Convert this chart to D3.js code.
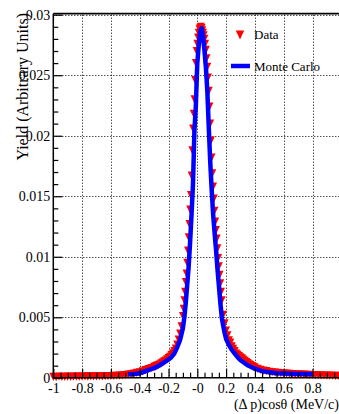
<!DOCTYPE html>
<html>
<head>
<meta charset="utf-8">
<script src="https://cdn.jsdelivr.net/npm/d3@7"></script>
<style>
  html, body { margin: 0; padding: 0; background: #fff; }
  svg { display: block; }
</style>
</head>
<body>
<svg id="chart" width="339" height="414"></svg>
<script>
// Axis ticks and labels
const xTicks = [-1, -0.8, -0.6, -0.4, -0.2, 0, 0.2, 0.4, 0.6, 0.8, 1];
const xTickLabels = ["-1", "-0.8", "-0.6", "-0.4", "-0.2", "-0", "0.2", "0.4", "0.6", "0.8", "1"];
const yTicks = [0, 0.005, 0.01, 0.015, 0.02, 0.025, 0.03];
const yTickLabels = ["0", "0.005", "0.01", "0.015", "0.02", "0.025", "0.03"];

// Measured distribution (bin centre, yield)
const dataX = [
  -1.00, -0.98, -0.96, -0.94, -0.92, -0.90, -0.88, -0.86, -0.84, -0.82,
  -0.80, -0.78, -0.76, -0.74, -0.72, -0.70, -0.68, -0.66, -0.64, -0.62,
  -0.60, -0.58, -0.56, -0.54, -0.52, -0.50, -0.48, -0.46, -0.44, -0.42,
  -0.40, -0.38, -0.36, -0.34, -0.32, -0.30,
  -0.29, -0.28, -0.27, -0.26, -0.25, -0.24, -0.23, -0.22, -0.21, -0.20,
  -0.19, -0.18, -0.17, -0.16, -0.15, -0.14, -0.13, -0.12, -0.11,
  -0.100, -0.095, -0.090, -0.085, -0.080, -0.075, -0.070, -0.065, -0.060, -0.055,
  -0.050, -0.045, -0.040, -0.035, -0.030, -0.025, -0.020, -0.015, -0.010, -0.005,
  0.000, 0.005, 0.010, 0.015, 0.020, 0.025, 0.030, 0.035, 0.040, 0.045,
  0.050, 0.055, 0.060, 0.065, 0.070, 0.075, 0.080, 0.085, 0.090, 0.095,
  0.100, 0.105, 0.110, 0.115, 0.120, 0.125, 0.130, 0.135, 0.140, 0.145,
  0.150, 0.155, 0.160, 0.165, 0.170,
  0.18, 0.19, 0.20, 0.21, 0.22, 0.23, 0.24, 0.25, 0.26, 0.27,
  0.28, 0.29, 0.30, 0.31, 0.32, 0.33, 0.34, 0.35, 0.36, 0.37,
  0.38, 0.39, 0.40,
  0.42, 0.44, 0.46, 0.48, 0.50, 0.52, 0.54, 0.56, 0.58, 0.60,
  0.62, 0.64, 0.66, 0.68, 0.70, 0.72, 0.74, 0.76, 0.78, 0.80,
  0.82, 0.84, 0.86, 0.88, 0.90, 0.92, 0.94, 0.96, 0.98, 1.00
];
const dataY = [
  0.00008, 0.00006, 0.00009, 0.00007, 0.00008, 0.00010, 0.00008, 0.00009, 0.00010, 0.00009,
  0.00010, 0.00011, 0.00010, 0.00012, 0.00011, 0.00012, 0.00013, 0.00012, 0.00014, 0.00014,
  0.00015, 0.00016, 0.00017, 0.00018, 0.00020, 0.00022, 0.00026, 0.00031, 0.00035, 0.00040,
  0.00045, 0.00054, 0.00064, 0.00072, 0.00081, 0.00090,
  0.00095, 0.00100, 0.00106, 0.00112, 0.00119, 0.00127, 0.00135, 0.00143, 0.00152, 0.00162,
  0.00174, 0.00188, 0.00203, 0.00220, 0.00242, 0.00275, 0.00315, 0.00365, 0.00425,
  0.0051, 0.0057, 0.0064, 0.0071, 0.0079, 0.0086, 0.0095, 0.0105, 0.0116, 0.0127,
  0.0139, 0.0151, 0.0167, 0.0188, 0.0206, 0.0218, 0.0230, 0.0246, 0.0260, 0.0270,
  0.0276, 0.0281, 0.0285, 0.0288, 0.0289, 0.0290, 0.0289, 0.0287, 0.0285, 0.0283,
  0.0280, 0.0276, 0.0271, 0.0264, 0.0257, 0.0248, 0.0237, 0.0224, 0.0210, 0.0196,
  0.0182, 0.0169, 0.0158, 0.0148, 0.0138, 0.0129, 0.0122, 0.0115, 0.0107, 0.0099,
  0.0092, 0.0085, 0.0078, 0.0071, 0.0064,
  0.0052, 0.0045, 0.0039, 0.0035, 0.0031, 0.0029, 0.0026, 0.0024, 0.0022, 0.0020,
  0.0019, 0.0018, 0.0017, 0.0016, 0.0015, 0.0014, 0.0013, 0.00121, 0.00112, 0.00104,
  0.00097, 0.00091, 0.00085,
  0.00074, 0.00066, 0.00060, 0.00055, 0.00050, 0.00046, 0.00043, 0.00040, 0.00038, 0.00036,
  0.00034, 0.00032, 0.00030, 0.00029, 0.00028, 0.00027, 0.00026, 0.00025, 0.00024, 0.00023,
  0.00022, 0.00021, 0.00020, 0.00019, 0.00018, 0.00018, 0.00017, 0.00016, 0.00016, 0.00015
];

// Simulated distribution
const mcX = [
  -0.48, -0.45, -0.42, -0.40, -0.38, -0.36, -0.34, -0.32, -0.30, -0.28,
  -0.26, -0.24, -0.22, -0.20, -0.18, -0.16, -0.14, -0.12, -0.11, -0.10,
  -0.09, -0.08, -0.07, -0.06, -0.05, -0.04, -0.03, -0.02, -0.01, 0.00,
  0.01, 0.02, 0.03, 0.04, 0.05, 0.06, 0.07, 0.08, 0.09, 0.10,
  0.11, 0.12, 0.13, 0.14, 0.15, 0.16, 0.17, 0.18, 0.19, 0.20,
  0.22, 0.24, 0.26, 0.28, 0.30, 0.33, 0.36, 0.40, 0.45, 0.50,
  0.55, 0.60, 0.65, 0.70, 0.75, 0.80
];
const mcY = [
  0.00030, 0.00031, 0.00034, 0.00037, 0.00045, 0.00055, 0.00064, 0.00072, 0.00080, 0.00092,
  0.00104, 0.00120, 0.00135, 0.00150, 0.00170, 0.00200, 0.00250, 0.00310, 0.00360, 0.00410,
  0.0050, 0.0062, 0.0077, 0.0092, 0.0112, 0.0135, 0.0160, 0.0204, 0.0225, 0.0260,
  0.0275, 0.0286, 0.0289, 0.0282, 0.0270, 0.0256, 0.0236, 0.0206, 0.0178, 0.0155,
  0.0135, 0.0120, 0.0106, 0.0090, 0.0076, 0.0062, 0.0050, 0.0043, 0.0037, 0.0032,
  0.0027, 0.0023, 0.0020, 0.0017, 0.00145, 0.0012, 0.00097, 0.00075, 0.00055, 0.00045,
  0.00037, 0.00035, 0.00033, 0.00032, 0.00031, 0.00030
];

const xMinor = d3.range(-1, 1.0001, 0.05).map(v => +v.toFixed(2)).filter(v => Math.abs(Math.round(v * 5) - v * 5) > 1e-6);
const yMinor = d3.range(0, 0.03001, 0.001).map(v => +v.toFixed(3)).filter(v => Math.abs(Math.round(v * 200) - v * 200) > 1e-6);

const serif = "'Liberation Serif', 'DejaVu Serif', 'Times New Roman', serif";
const svg = d3.select("#chart");

const x = d3.scaleLinear().domain([-1, 1]).range([53.3, 341.3]);
const y = d3.scaleLinear().domain([0, 0.03]).range([377.8, 14.7]);

// Downward-pointing triangle marker, size = half-width in px
const triangleDown = {
  draw(ctx, s) {
    const h = s * 1.05;
    ctx.moveTo(-s, -h);
    ctx.lineTo(s, -h);
    ctx.lineTo(0, h);
    ctx.closePath();
  }
};

// Dotted grid at the major ticks
const grid = svg.append("g").attr("stroke", "#000").attr("stroke-width", 1)
  .attr("stroke-dasharray", "1,2").attr("fill", "none");
grid.selectAll("line.gx").data(xTicks.slice(1, -1)).join("line")
  .attr("class", "gx")
  .attr("x1", d => Math.round(x(d)) + 0.5).attr("x2", d => Math.round(x(d)) + 0.5)
  .attr("y1", y(0.03)).attr("y2", y(0));
grid.selectAll("line.gy").data(yTicks.slice(1)).join("line")
  .attr("class", "gy")
  .attr("y1", d => Math.round(y(d)) + 0.5).attr("y2", d => Math.round(y(d)) + 0.5)
  .attr("x1", x(-1)).attr("x2", x(1));

// Data markers
const tri = d3.symbol().type(triangleDown).size(3.9);
svg.append("g").selectAll("path").data(dataX.map((d, i) => [d, dataY[i]])).join("path")
  .attr("d", tri)
  .attr("transform", d => `translate(${x(d[0])},${y(d[1])})`)
  .attr("fill", "#ff0000");

// Monte Carlo curve
const line = d3.line().x(d => x(d[0])).y(d => y(d[1]));
svg.append("path")
  .datum(mcX.map((d, i) => [d, mcY[i]]))
  .attr("d", line)
  .attr("fill", "none")
  .attr("stroke", "#0000ff")
  .attr("stroke-width", 4.5)
  .attr("stroke-linejoin", "round");

// Axes
function styleAxis(g) {
  g.attr("font-family", serif).attr("font-size", 14);
  g.select(".domain").remove();
  g.selectAll(".tick line").attr("stroke", "#000").attr("stroke-width", 1.2);
  g.selectAll("text").attr("fill", "#000");
}
svg.append("g").attr("transform", `translate(0,${y(0)})`)
  .call(d3.axisBottom(x).tickValues(xTicks).tickFormat((d, i) => xTickLabels[i])
    .tickSize(-9).tickPadding(5))
  .call(styleAxis);
svg.append("g").attr("transform", `translate(0,${y(0)})`)
  .call(d3.axisBottom(x).tickValues(xMinor).tickFormat("").tickSize(-5))
  .call(styleAxis);
svg.append("g").attr("transform", `translate(${x(-1)},0)`)
  .call(d3.axisLeft(y).tickValues(yTicks).tickFormat((d, i) => yTickLabels[i])
    .tickSize(-9).tickPadding(3))
  .call(styleAxis);
svg.append("g").attr("transform", `translate(${x(-1)},0)`)
  .call(d3.axisLeft(y).tickValues(yMinor).tickFormat("").tickSize(-5))
  .call(styleAxis);

// Frame lines
svg.append("line").attr("x1", x(-1)).attr("x2", x(1)).attr("y1", y(0)).attr("y2", y(0))
  .attr("stroke", "#000").attr("stroke-width", 1.5);
svg.append("line").attr("x1", x(-1)).attr("x2", x(-1)).attr("y1", y(0.03) - 1).attr("y2", y(0))
  .attr("stroke", "#000").attr("stroke-width", 1.5);
svg.append("line").attr("x1", x(-1)).attr("x2", x(1)).attr("y1", y(0.03) - 1).attr("y2", y(0.03) - 1)
  .attr("stroke", "#000").attr("stroke-width", 1.8);

// Axis titles
svg.append("text")
  .attr("x", 339).attr("y", 409)
  .attr("text-anchor", "end")
  .attr("font-family", serif).attr("font-size", 14)
  .text("(Δ p)cosθ (MeV/c)");
svg.append("text")
  .attr("transform", "translate(28,13) rotate(-90)")
  .attr("text-anchor", "end")
  .attr("font-family", serif).attr("font-size", 16)
  .text("Yield (Arbitrary Units)");

// Legend
const legend = svg.append("g").attr("font-family", serif).attr("font-size", 13);
legend.append("path").attr("d", d3.symbol().type(triangleDown).size(4.2))
  .attr("transform", "translate(240,35)").attr("fill", "#ff0000");
legend.append("text").attr("x", 254).attr("y", 39).text("Data");
legend.append("line").attr("x1", 231).attr("x2", 250).attr("y1", 66).attr("y2", 66)
  .attr("stroke", "#0000ff").attr("stroke-width", 4.5);
legend.append("text").attr("x", 254).attr("y", 71).text("Monte Carlo");
</script>
</body>
</html>
